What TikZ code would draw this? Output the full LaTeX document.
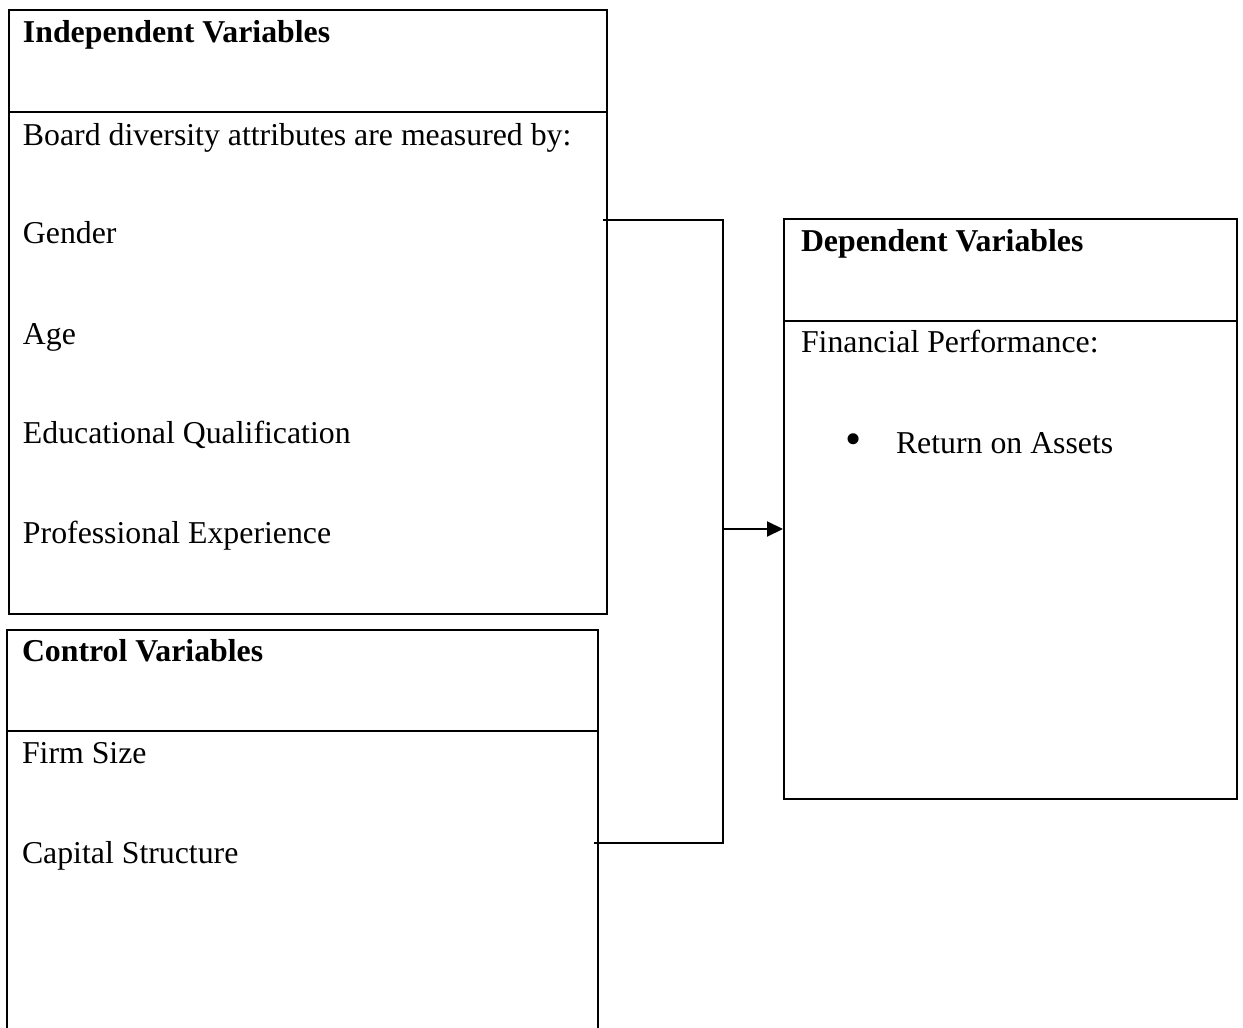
\documentclass[tikz,border=0pt]{standalone}
\usepackage{fontspec}
\setmainfont{Liberation Serif}
\usetikzlibrary{arrows.meta}
\tikzset{
  txt/.style={anchor=base west,inner sep=0pt,font=\fontsize{15.9}{18}\selectfont},
  hd/.style={txt,font=\fontsize{15.9}{18}\selectfont\bfseries},
  lnk/.style={line width=1pt}
}
\begin{document}
\begin{tikzpicture}[>={Triangle[length=8pt,width=7.5pt]},x=0.5pt,y=-0.5pt,line width=1pt]
  \useasboundingbox (0,0) rectangle (1243,1028);
  % independent variables
  \draw (9,10) rectangle (607,614);
  \draw (9,112) -- (607,112);
  \node[hd] (indhead) at (22,42) {Independent Variables};
  \node[txt] (board) at (22,145) {Board diversity attributes are measured by:};
  \node[txt] (gender) at (22,243) {Gender};
  \node[txt] (age) at (22,344) {Age};
  \node[txt] (edu) at (22,443) {Educational Qualification};
  \node[txt] (prof) at (22,543) {Professional Experience};
  % control variables
  \draw (7,1030) -- (7,630) -- (598,630) -- (598,1030);
  \draw (7,731) -- (598,731);
  \node[hd] (conhead) at (21,661) {Control Variables};
  \node[txt] (size) at (21,763) {Firm Size};
  \node[txt] (cap) at (21,863) {Capital Structure};
  % dependent variables
  \draw (784,219) rectangle (1237,799);
  \draw (784,321) -- (1237,321);
  \node[hd] (dephead) at (800,251) {Dependent Variables};
  \node[txt] (fin) at (800,352) {Financial Performance:};
  \node[txt] (bul) at (844,454) {\scalebox{1.45}{\textbullet}};
  \node[txt] (roa) at (895,453) {Return on Assets};
  % connector
  \coordinate (indout) at (603,220);
  \coordinate (conout) at (594,843);
  \coordinate (jtop) at (723,220);
  \coordinate (jbot) at (723,843);
  \coordinate (jmid) at (723,529);
  \coordinate (depin) at (783,529);
  \draw[lnk] (indout) -- (jtop) -- (jbot) -- (conout);
  \draw[lnk,->] (jmid) -- (depin);
\end{tikzpicture}
\end{document}
